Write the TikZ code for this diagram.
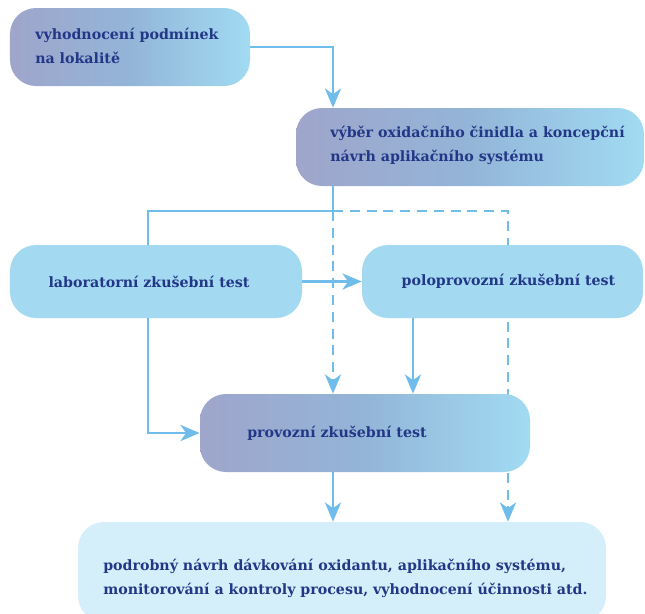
\documentclass[tikz,border=0pt]{standalone}
\usepackage{fontspec}
\setmainfont{DejaVu Serif}
\usepackage{tikz}
\usetikzlibrary{positioning, arrows.meta}
\usepackage{xcolor}

\definecolor{linkblue}{RGB}{112,188,234}
\definecolor{textblue}{RGB}{35,55,135}
\definecolor{boxleft}{RGB}{159,165,203}
\definecolor{boxmid}{RGB}{147,181,216}
\definecolor{boxright}{RGB}{161,219,242}
\definecolor{boxlight}{RGB}{163,217,241}
\definecolor{boxpale}{RGB}{212,238,250}

\pgfdeclarelayer{background}
\pgfsetlayers{background,main}

\tikzset{
  box/.style={rounded corners=0.65cm, minimum height=1.95cm, inner sep=0pt},
  fadebox/.style={box, left color=boxleft, right color=boxright, middle color=boxmid},
  flatbox/.style={box, fill=boxlight, minimum height=1.825cm},
  lbl/.style={font=\bfseries\fontsize{10.1}{17}\selectfont, text=textblue},
  txt/.style={lbl, align=left, anchor=west, inner sep=0pt},
  link/.style={draw=linkblue, line width=2.1pt},
  arr/.style={link, -{Stealth[length=0.48cm, width=0.4cm, inset=0.14cm]}},
  darr/.style={arr, dash pattern=on 0.25cm off 0.17cm},
}

\begin{document}
\begin{tikzpicture}[scale=1.0]
    \useasboundingbox (0,0) rectangle (16.125,-15.35);
    \clip (0,0) rectangle (16.125,-15.35);

    % boxes
    \node[fadebox, minimum width=6cm] (cond) at (3.25,-1.175) {};
    \node[txt] (condtext) at (0.875,-1.15) {vyhodnocení podmínek\\na lokalitě};

    \node[fadebox, minimum width=8.7cm] (choice) at (11.75,-3.675) {};
    \node[txt] (choicetext) at (8.25,-3.625)
        {výběr oxidačního činidla a koncepční\\návrh aplikačního systému};

    \node[flatbox, lbl, minimum width=7.3cm] (lab) at (3.9,-7.0375)
        {\hspace*{-0.35cm}laboratorní zkušební test};
    \node[flatbox, lbl, minimum width=7.025cm] (pilot) at (12.5625,-7.0375)
        {\hspace*{0.3cm}poloprovozní zkušební test};

    \node[fadebox, minimum width=8.25cm] (full) at (9.125,-10.825) {};
    \node[txt] (fulltext) at (6.175,-10.825) {provozní zkušební test};

    \node[box, fill=boxpale, minimum width=13.2cm, minimum height=2.5cm] (design) at (8.55,-14.3) {};
    \node[txt] (designtext) at (2.575,-14.4625)
        {podrobný návrh dávkování oxidantu, aplikačního systému,\\monitorování a kontroly procesu, vyhodnocení účinnosti atd.};

    % branch points of the flow lines
    \coordinate (split) at (8.325,-5.275);
    \coordinate (colL) at (3.7,-5.275);
    \coordinate (colM) at (10.325,-7);
    \coordinate (colR) at (12.7,-5.275);

    \begin{pgfonlayer}{background}
    \draw[arr] (cond) -| (choice.north -| split);
    \draw[link] (choice.south -| split) -- (split) -| (lab.north -| colL);
    \draw[darr] (split) -- (full.north -| split);
    \draw[darr] (split) -| (design.north -| colR);
    \draw[arr] (lab) -- (pilot);
    \draw[arr] (pilot.south -| colM) -- (full.north -| colM);
    \draw[arr] (lab.south -| colL) |- (full);
    \draw[arr] (full.south -| split) -- (design.north -| split);
    \end{pgfonlayer}
\end{tikzpicture}
\end{document}
